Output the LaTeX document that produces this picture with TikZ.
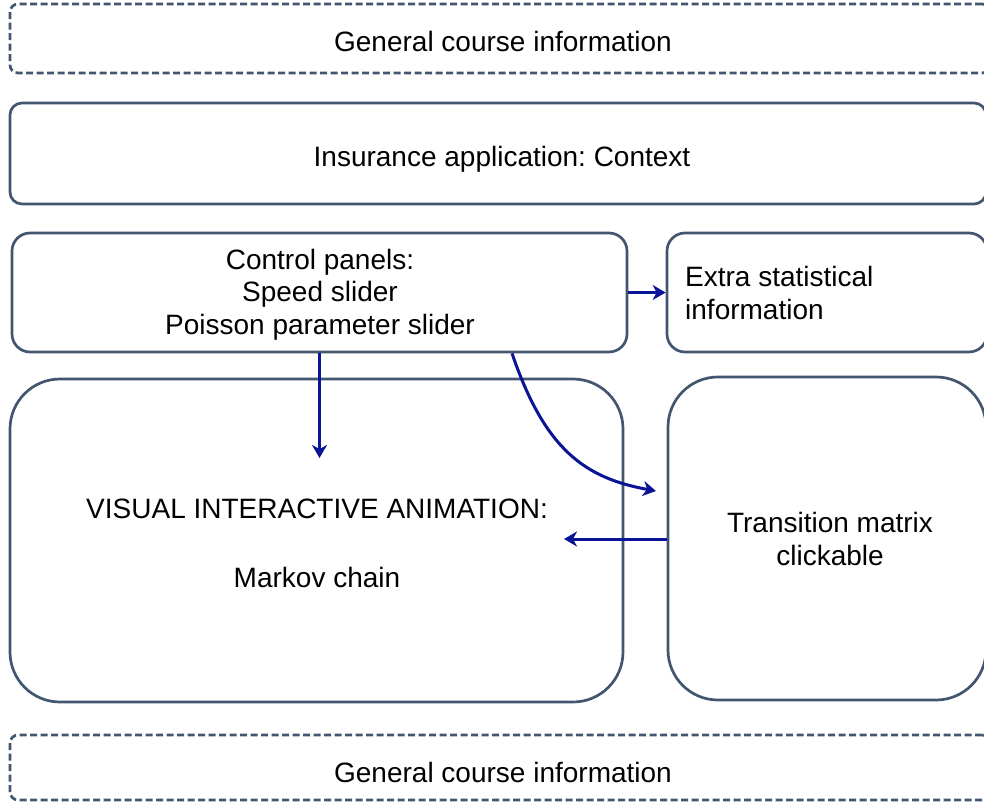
\documentclass[tikz,border=0pt]{standalone}
\usepackage{fontspec}
\setmainfont{Liberation Sans}
\frenchspacing
\usetikzlibrary{arrows.meta}
\definecolor{boxline}{RGB}{66,86,112}
\definecolor{arrowblue}{RGB}{10,20,150}
\tikzset{
  box/.style={draw=boxline, line width=2.7pt, rectangle, inner sep=0pt},
  dbox/.style={box, dash pattern=on 7pt off 3.5pt, rounded corners=8pt},
  conn/.style={draw=arrowblue, line width=3pt, -{Stealth[length=13pt,width=15pt,inset=4pt]}},
  txt/.style={font=\fontsize{28}{32.5}\selectfont\frenchspacing, align=center, inner sep=0pt, anchor=base}
}
\begin{document}
\begin{tikzpicture}[x=1pt,y=-1pt]
\useasboundingbox (0,0) rectangle (984,802);
% boxes
\node[dbox, minimum width=980pt, minimum height=69pt] (gtop) at (500,38.5) {};
\node[box, rounded corners=12pt, minimum width=976pt, minimum height=101pt] (ins) at (498,153.5) {};
\node[box, rounded corners=18pt, minimum width=615pt, minimum height=119pt] (cp) at (319.5,292.5) {};
\node[box, rounded corners=18pt, minimum width=320pt, minimum height=119pt] (ex) at (827,292.5) {};
\node[box, rounded corners=50pt, minimum width=613pt, minimum height=323pt] (vis) at (316.5,540.5) {};
\node[box, rounded corners=50pt, minimum width=318pt, minimum height=323pt] (tm) at (827,538.5) {};
\node[dbox, minimum width=980pt, minimum height=65pt] (gbot) at (500,767.5) {};
% texts (base anchor = baseline of the last line)
\node[txt] (gtoptext) at (503,52) {General course information};
\node[txt] (instext) at (502,167) {Insurance application: Context};
\node[txt] (cptext) at (320,334) {Control panels:\\Speed slider\\Poisson parameter slider};
\node[txt, align=left, anchor=base west] (extext) at (685,319) {Extra statistical\\information};
\node[txt] (vistext) at (317,587) {VISUAL INTERACTIVE ANIMATION:\\[36.5pt]Markov chain};
\node[txt] (tmtext) at (830,565) {Transition matrix\\clickable};
\node[txt] (gbottext) at (503,782) {General course information};
% connectors
\coordinate (a1) at (319.5,458);
\coordinate (a2) at (656,491);
\coordinate (a3) at (564,539);
\draw[conn] (cp.east) -- (ex.west);
\draw[conn] (cp.south -| a1) -- (a1);
\draw[conn] ([xshift=192.5pt]cp.south) .. controls (545,450) and (585,478) .. (a2);
\draw[conn] (tm.west |- a3) -- (a3);
\end{tikzpicture}
\end{document}
